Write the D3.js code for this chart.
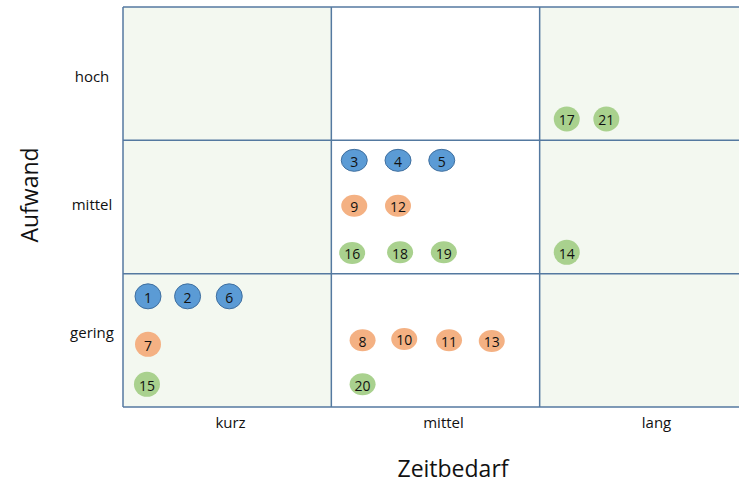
<!DOCTYPE html>
<html><head><meta charset="utf-8">
<script src="https://cdn.jsdelivr.net/npm/d3@7"></script>
<style>body{margin:0;background:#fff}svg{display:block}text{font-family:"Open Sans","Noto Sans",sans-serif;fill:#111}</style>
</head><body><svg id="c" width="739" height="483"></svg>
<script>
const xCategories = ["kurz", "mittel", "lang"];
const yCategories = ["gering", "mittel", "hoch"];
const ids    = [1,2,6,7,15,3,4,5,9,12,16,18,19,17,21,14,8,10,11,13,20];
const xs     = [0.12,0.31,0.51,0.12,0.115,1.11,1.32,1.53,1.11,1.32,1.10,1.33,1.54,2.13,2.32,2.13,1.15,1.35,1.565,1.77,1.15];
const ys     = [0.83,0.83,0.83,0.47,0.17,1.85,1.85,1.85,1.51,1.51,1.155,1.16,1.16,2.16,2.16,1.16,0.50,0.51,0.50,0.495,0.17];
const groups = ["A","A","A","B","C","A","A","A","B","B","C","C","C","C","C","C","B","B","B","B","C"];
const groupColors = {A:"#5b9bd5", B:"#f4b183", C:"#a9d18e"};
const groupStroke = {A:"#3f6f9f", B:"none", C:"none"};

const svg = d3.select("#c");
const x = d3.scaleLinear().domain([0,3]).range([123,748]);
const y = d3.scaleLinear().domain([0,3]).range([407,7]);

// cells
const cells = [];
for (let i=0;i<3;i++) for (let j=0;j<3;j++) cells.push({i,j});
svg.append("g").selectAll("rect").data(cells).join("rect")
  .attr("x", d=>x(d.i)).attr("y", d=>y(d.j+1))
  .attr("width", d=>x(d.i+1)-x(d.i)).attr("height", d=>y(d.j)-y(d.j+1))
  .attr("fill", d=>d.i===1?"#ffffff":"#f3f8f0");

const grid = svg.append("g").attr("stroke","#5479a0").attr("stroke-width",1.5);
[0,1,2,3].forEach(j=>grid.append("line").attr("x1",x(0)).attr("x2",x(3)).attr("y1",y(j)).attr("y2",y(j)));
[0,1,2].forEach(i=>grid.append("line").attr("x1",x(i)).attr("x2",x(i)).attr("y1",y(0)).attr("y2",y(3)));

// axis labels
const xb = d3.scaleBand().domain(xCategories).range([124,763]);
svg.append("g").selectAll("text").data(xCategories).join("text")
  .attr("x", d=>xb(d)+xb.bandwidth()/2).attr("y", 428).attr("text-anchor","middle")
  .attr("font-size",15).text(d=>d);
const yb = d3.scaleBand().domain(yCategories).range([397,13]);
svg.append("g").selectAll("text").data(yCategories).join("text")
  .attr("x", 92).attr("y", d=>yb(d)+yb.bandwidth()/2).attr("dy","0.35em").attr("text-anchor","middle")
  .attr("font-size",15).text(d=>d);

svg.append("text").attr("x",453).attr("y",469).attr("dy","0.35em").attr("text-anchor","middle").attr("font-size",23).text("Zeitbedarf");
svg.append("text").attr("transform","translate(30,195) rotate(-90)").attr("text-anchor","middle").attr("font-size",23).attr("dy","0.35em").text("Aufwand");

// points
const pts = ids.map((id,k)=>({id, x:xs[k], y:ys[k], g:groups[k]}));
const pg = svg.append("g").selectAll("g").data(pts).join("g")
  .attr("transform", d=>`translate(${x(d.x)},${y(d.y)})`);
pg.append("ellipse")
  .attr("rx", 13).attr("ry", d=>Math.floor(d.x)===1?11:12.5)
  .attr("fill", d=>groupColors[d.g]).attr("stroke", d=>groupStroke[d.g]).attr("stroke-width",1);
pg.append("text").attr("text-anchor","middle").attr("dy","0.37em").attr("y",1)
  .attr("font-size",14).text(d=>d.id);
</script></body></html>
